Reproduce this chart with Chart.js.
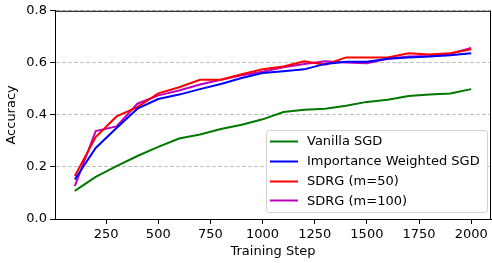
<!DOCTYPE html>
<html>
<head>
<meta charset="utf-8">
<script src="https://cdn.jsdelivr.net/npm/chart.js@4/dist/chart.umd.min.js"></script>
<style>
  html, body { margin: 0; padding: 0; background: #fff; }
</style>
</head>
<body>
<canvas id="chart" width="492" height="263"></canvas>
<script>
const steps = [100, 200, 300, 400, 500, 600, 700, 800, 900, 1000,
               1100, 1200, 1300, 1400, 1500, 1600, 1700, 1800, 1900, 2000];

const vanillaSgd = [0.108, 0.162, 0.203, 0.242, 0.277, 0.309, 0.325, 0.346, 0.362, 0.383,
                    0.411, 0.420, 0.424, 0.435, 0.450, 0.458, 0.473, 0.478, 0.482, 0.499];
const importanceSgd = [0.152, 0.273, 0.350, 0.424, 0.461, 0.478, 0.499, 0.519, 0.542, 0.561,
                       0.568, 0.575, 0.596, 0.604, 0.604, 0.616, 0.621, 0.624, 0.629, 0.637];
const sdrg50 = [0.165, 0.315, 0.394, 0.430, 0.483, 0.506, 0.535, 0.535, 0.556, 0.575,
                0.586, 0.606, 0.593, 0.621, 0.621, 0.621, 0.637, 0.632, 0.637, 0.652];
const sdrg100 = [0.126, 0.338, 0.356, 0.443, 0.475, 0.494, 0.517, 0.535, 0.552, 0.566,
                 0.583, 0.596, 0.606, 0.601, 0.598, 0.616, 0.624, 0.626, 0.635, 0.657];

const xTicks = [250, 500, 750, 1000, 1250, 1500, 1750, 2000];
const yTicks = [0.0, 0.2, 0.4, 0.6, 0.8];

const FONT = 'DejaVu Sans';

function series(label, values, color) {
  return {
    label: label,
    data: steps.map((s, i) => ({ x: s, y: values[i] })),
    borderColor: color,
    backgroundColor: color,
    borderWidth: 2,
    pointRadius: 0,
    tension: 0,
    fill: false
  };
}

// frame around the plot area, like matplotlib spines
const framePlugin = {
  id: 'frame',
  afterDatasetsDraw(chart) {
    const { ctx, chartArea: a } = chart;
    ctx.save();
    ctx.strokeStyle = '#000';
    ctx.lineWidth = 1;
    ctx.strokeRect(a.left + 0.5, a.top + 0.5, a.right - a.left - 1, a.bottom - a.top);
    ctx.restore();
  }
};

// legend box in the lower right of the plot
const boxLegend = {
  id: 'boxLegend',
  afterDraw(chart) {
    const { ctx } = chart;
    const x0 = 266, y0 = 130, w = 221, h = 82, r = 3;
    ctx.save();
    ctx.globalAlpha = 0.8;
    ctx.fillStyle = '#fff';
    ctx.beginPath();
    ctx.roundRect(x0 + 0.5, y0 + 0.5, w, h, r);
    ctx.fill();
    ctx.globalAlpha = 1;
    ctx.strokeStyle = '#d0d0d0';
    ctx.lineWidth = 1;
    ctx.stroke();
    ctx.font = '13px "' + FONT + '"';
    ctx.textBaseline = 'middle';
    ctx.textAlign = 'left';
    chart.data.datasets.forEach((ds, i) => {
      const yy = 141 + i * 19.8;
      ctx.strokeStyle = ds.borderColor;
      ctx.lineWidth = 2;
      ctx.beginPath();
      ctx.moveTo(270, Math.round(yy) + 0.5);
      ctx.lineTo(298, Math.round(yy) + 0.5);
      ctx.stroke();
      ctx.fillStyle = '#000';
      ctx.fillText(ds.label, 307, yy + 1);
    });
    ctx.restore();
  }
};

const ctx = document.getElementById('chart').getContext('2d');
new Chart(ctx, {
  type: 'line',
  data: {
    datasets: [
      series('Vanilla SGD', vanillaSgd, '#007800'),
      series('Importance Weighted SGD', importanceSgd, '#0000ff'),
      series('SDRG (m=50)', sdrg50, '#ff0000'),
      series('SDRG (m=100)', sdrg100, '#bf00bf')
    ]
  },
  options: {
    responsive: false,
    animation: false,
    parsing: false,
    layout: { padding: { top: 10, right: 1, left: 0, bottom: 0 } },
    plugins: {
      legend: { display: false },
      tooltip: { enabled: false }
    },
    scales: {
      x: {
        type: 'linear',
        min: 5,
        max: 2095,
        afterBuildTicks: (scale) => { scale.ticks = xTicks.map(v => ({ value: v })); },
        afterFit: (scale) => { scale.height = 44; },
        ticks: {
          color: '#000',
          font: { family: FONT, size: 13 },
          padding: 3,
          maxRotation: 0,
          autoSkip: false,
          callback: (v) => String(v)
        },
        grid: {
          drawOnChartArea: false,
          tickLength: 5,
          tickColor: '#000',
          tickWidth: 1
        },
        border: { color: '#000', width: 1 },
        title: {
          display: true,
          text: 'Training Step',
          color: '#000',
          font: { family: FONT, size: 13 },
          padding: { top: 4, bottom: 4 }
        }
      },
      y: {
        type: 'linear',
        min: 0,
        max: 0.8,
        afterBuildTicks: (scale) => { scale.ticks = yTicks.map(v => ({ value: v })); },
        afterFit: (scale) => { scale.width = 55; },
        ticks: {
          color: '#000',
          font: { family: FONT, size: 13 },
          padding: 3,
          callback: (v) => v.toFixed(1)
        },
        grid: {
          color: '#c0c0c0',
          lineWidth: 1,
          tickLength: 5,
          tickColor: '#000',
          tickWidth: 1,
          tickBorderDash: []
        },
        border: { color: '#000', width: 1, dash: [4, 2] },
        title: {
          display: true,
          text: 'Accuracy',
          color: '#000',
          font: { family: FONT, size: 13 },
          padding: { top: 4, bottom: 4 }
        }
      }
    }
  },
  plugins: [framePlugin, boxLegend]
});
</script>
</body>
</html>
